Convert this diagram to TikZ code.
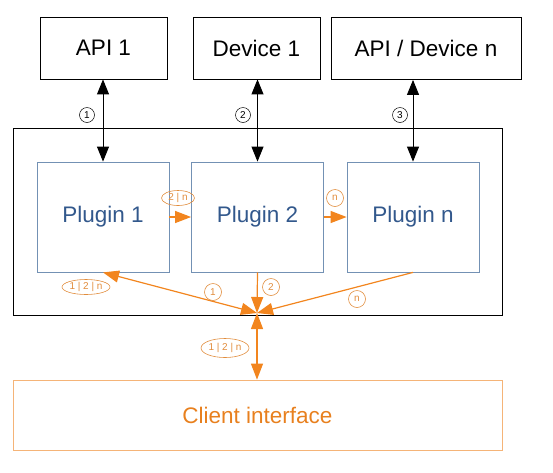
\documentclass[tikz,border=0pt]{standalone}
\usepackage{fontspec}
\setmainfont{Liberation Sans}
\usetikzlibrary{arrows.meta,shapes.geometric}
\definecolor{arrorange}{RGB}{242,133,30}
\definecolor{laborange}{RGB}{225,140,60}
\definecolor{clientline}{RGB}{245,180,120}
\definecolor{clienttext}{RGB}{232,128,30}
\definecolor{plugline}{RGB}{115,145,180}
\definecolor{plugtext}{RGB}{50,88,140}
\tikzset{
  extbox/.style={draw,line width=0.8pt,minimum width=127pt,minimum height=62pt,
    inner sep=0pt,font=\fontsize{22.5}{24}\selectfont},
  plugbox/.style={draw=plugline,line width=0.8pt,minimum width=132pt,minimum height=110pt,
    inner sep=0pt,text=plugtext,font=\fontsize{22.5}{24}\selectfont},
  blkarr/.style={line width=0.9pt,{Triangle[length=15pt,width=12pt]}-{Triangle[length=15pt,width=12pt]}},
  orgarr/.style={draw=arrorange,line width=1.2pt,-{Triangle[length=16pt,width=12pt]},arrorange},
  orgboth/.style={orgarr,{Triangle[length=16pt,width=12pt]}-{Triangle[length=16pt,width=12pt]}},
  bnum/.style={circle,draw,line width=0.5pt,inner sep=0pt,minimum size=15pt,
    font=\fontsize{10}{10}\selectfont},
  onum/.style={circle,draw=laborange,text=laborange,line width=0.6pt,inner sep=0pt,
    minimum size=17pt,font=\fontsize{10}{10}\selectfont},
  olab/.style={ellipse,draw=laborange,text=laborange,line width=0.6pt,inner sep=0pt,
    minimum height=15pt,font=\fontsize{10}{10}\selectfont}
}
\begin{document}
\begin{tikzpicture}[x=1pt,y=-1pt]
  \useasboundingbox (0,0) rectangle (553,472);

  % outside world
  \node[extbox] (api1) at (103.5,48) {API 1};
  \node[extbox] (dev1) at (256.5,48) {Device 1};
  \node[extbox,minimum width=190pt] (apin) at (426,48.5) {API / Device n};

  % plugin host
  \node[draw,line width=0.8pt,minimum width=489pt,minimum height=187pt] (host) at (257.5,221.5) {};
  \node[plugbox] (plug1) at (103,217) {Plugin 1};
  \node[plugbox] (plug2) at (257.5,217) {Plugin 2};
  \node[plugbox] (plugn) at (413,217) {Plugin n};

  \draw[blkarr] (api1.south -| plug1.north) -- (plug1.north);
  \draw[blkarr] (dev1.south -| plug2.north) -- (plug2.north);
  \draw[blkarr] (apin.south -| plugn.north) -- (plugn.north);
  \node[bnum] (c1) at (87,115) {1};
  \node[bnum] (c2) at (243,115) {2};
  \node[bnum] (c3) at (400,115) {3};

  % chaining
  \draw[orgarr] (plug1.east) -- (plug2.west);
  \draw[orgarr] (plug2.east) -- (plugn.west);
  \node[olab,minimum width=33pt] (l12) at (178,198) {2 | n};
  \node[onum] (l2n) at (335,198) {n};

  % client side
  \coordinate (hub) at (257,313);
  \node[draw=clientline,line width=0.8pt,minimum width=489pt,minimum height=70pt,
    text=clienttext,font=\fontsize{22.5}{24}\selectfont] (client) at (257.5,415) {Client interface};

  \draw[orgboth] (plug1.south) -- (hub);
  \draw[orgarr] (plug2.south) -- (hub);
  \draw[orgarr] (plugn.south) -- (hub);
  \draw[orgboth] (hub) -- (hub |- client.north);

  \node[olab,minimum width=48pt] (lall) at (86,287) {1 | 2 | n};
  \node[onum] (lp1) at (213,292) {1};
  \node[onum] (lp2) at (271,287) {2};
  \node[onum] (lpn) at (357,299) {n};
  \node[olab,minimum width=48pt,minimum height=19pt] (lcl) at (225,348) {1 | 2 | n};
\end{tikzpicture}
\end{document}
